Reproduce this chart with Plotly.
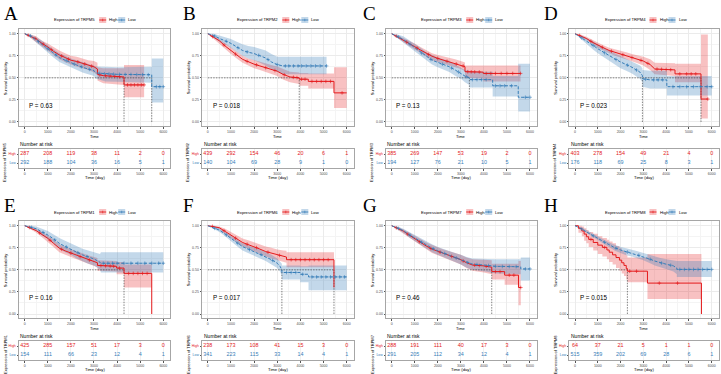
import plotly.graph_objects as go

# ---------------- data ----------------
letters = ["A", "B", "C", "D", "E", "F", "G", "H"]
genes = ["TRPM5", "TRPM2", "TRPM3", "TRPM4", "TRPM1", "TRPM6", "TRPM7", "TRPM8"]
pvals = ["0.63", "0.018", "0.13", "0.023", "0.16", "0.017", "0.46", "0.015"]
risk_times = [0, 1000, 2000, 3000, 4000, 5000, 6000]

A_risk_high = [287, 208, 119, 38, 11, 2, 0]
A_risk_low = [292, 188, 104, 36, 16, 5, 1]
B_risk_high = [439, 292, 154, 46, 20, 6, 1]
B_risk_low = [140, 104, 69, 28, 9, 1, 0]
C_risk_high = [385, 269, 147, 53, 19, 2, 0]
C_risk_low = [194, 127, 76, 21, 10, 5, 1]
D_risk_high = [403, 278, 154, 49, 21, 4, 0]
D_risk_low = [176, 118, 69, 25, 8, 3, 1]
E_risk_high = [425, 285, 157, 51, 17, 3, 0]
E_risk_low = [154, 111, 66, 23, 12, 4, 1]
F_risk_high = [238, 173, 108, 41, 15, 3, 0]
F_risk_low = [341, 223, 115, 33, 14, 4, 1]
G_risk_high = [288, 191, 111, 40, 17, 3, 0]
G_risk_low = [291, 205, 112, 34, 12, 4, 1]
H_risk_high = [64, 37, 21, 5, 1, 1, 0]
H_risk_low = [515, 359, 202, 69, 28, 6, 1]

# survival curves: (time, survival, lower CI, upper CI)
A_high = [(0,1,1,1),(250,0.97,0.95,0.99),(500,0.94,0.91,0.97),(750,0.89,0.86,0.92),(1000,0.85,0.81,0.89),
          (1250,0.80,0.76,0.85),(1500,0.76,0.71,0.81),(1750,0.73,0.68,0.78),(2000,0.70,0.65,0.75),
          (2250,0.685,0.63,0.74),(2500,0.665,0.61,0.72),(2750,0.645,0.59,0.70),(3000,0.625,0.56,0.69),
          (3150,0.60,0.53,0.67),(3150,0.54,0.47,0.62),(3400,0.525,0.44,0.61),(4300,0.51,0.42,0.61),
          (4300,0.42,0.28,0.645),(5170,0.42,0.28,0.645)]
A_low = [(0,1,1,1),(250,0.975,0.96,0.99),(500,0.93,0.90,0.96),(750,0.88,0.84,0.92),(1000,0.83,0.79,0.87),
         (1250,0.78,0.73,0.82),(1500,0.73,0.68,0.78),(1750,0.70,0.65,0.75),(2000,0.67,0.62,0.72),
         (2250,0.645,0.59,0.70),(2500,0.62,0.56,0.68),(2750,0.60,0.54,0.66),(3000,0.58,0.52,0.645),
         (3100,0.555,0.49,0.63),(3500,0.545,0.46,0.625),(4000,0.54,0.455,0.62),(5500,0.535,0.445,0.625),
         (5500,0.40,0.22,0.72),(6000,0.40,0.22,0.72)]
B_high = [(0,1,1,1),(250,0.96,0.94,0.98),(500,0.92,0.89,0.94),(750,0.86,0.83,0.89),(1000,0.805,0.77,0.84),
          (1250,0.76,0.72,0.80),(1500,0.71,0.67,0.75),(1750,0.68,0.64,0.72),(2000,0.655,0.61,0.70),
          (2250,0.635,0.59,0.68),(2500,0.615,0.57,0.66),(2750,0.595,0.545,0.645),(3000,0.575,0.52,0.63),
          (3250,0.54,0.48,0.60),(3550,0.51,0.45,0.57),(3950,0.50,0.43,0.56),(3950,0.485,0.41,0.555),
          (4340,0.485,0.41,0.555),(4340,0.46,0.38,0.55),(5450,0.46,0.38,0.55),(5450,0.33,0.16,0.62),
          (6000,0.33,0.16,0.62)]
B_low = [(0,1,1,1),(250,0.98,0.96,1.0),(500,0.947,0.91,0.98),(750,0.92,0.88,0.96),(1000,0.89,0.84,0.94),
         (1250,0.85,0.79,0.91),(1500,0.81,0.75,0.88),(1750,0.79,0.72,0.86),(2000,0.775,0.70,0.85),
         (2250,0.75,0.67,0.83),(2500,0.725,0.64,0.81),(2750,0.68,0.60,0.77),(3000,0.65,0.57,0.74),
         (3250,0.635,0.54,0.74),(5130,0.635,0.54,0.74)]
C_high = [(0,1,1,1),(250,0.965,0.95,0.98),(500,0.93,0.90,0.95),(750,0.89,0.86,0.92),(1000,0.853,0.82,0.89),
          (1250,0.815,0.78,0.85),(1500,0.777,0.74,0.81),(1750,0.745,0.70,0.78),(2000,0.72,0.68,0.76),
          (2250,0.70,0.66,0.745),(2500,0.68,0.635,0.725),(2750,0.66,0.615,0.71),(3000,0.645,0.60,0.69),
          (3180,0.626,0.575,0.675),(3180,0.57,0.50,0.64),(3970,0.565,0.49,0.64),(3970,0.55,0.46,0.64),
          (5590,0.55,0.46,0.64)]
C_low = [(0,1,1,1),(250,0.97,0.95,0.99),(500,0.935,0.90,0.97),(750,0.89,0.85,0.93),(1000,0.84,0.80,0.88),
         (1250,0.79,0.74,0.84),(1500,0.74,0.69,0.79),(1750,0.70,0.65,0.76),(2000,0.675,0.62,0.73),
         (2250,0.65,0.59,0.71),(2500,0.626,0.565,0.69),(2750,0.59,0.525,0.65),(3000,0.55,0.49,0.61),
         (3180,0.52,0.45,0.59),(3370,0.50,0.42,0.58),(3370,0.48,0.39,0.57),(4380,0.48,0.39,0.57),
         (4380,0.41,0.29,0.52),(5490,0.41,0.29,0.52),(5490,0.28,0.12,0.66),(6000,0.28,0.12,0.66)]
D_high = [(0,1,1,1),(250,0.975,0.96,0.99),(500,0.946,0.93,0.965),(750,0.905,0.88,0.93),(1000,0.87,0.84,0.90),
          (1250,0.84,0.81,0.87),(1500,0.81,0.78,0.84),(1750,0.79,0.75,0.825),(2000,0.77,0.73,0.81),
          (2250,0.75,0.71,0.79),(2500,0.73,0.69,0.77),(2750,0.71,0.665,0.755),(3000,0.69,0.64,0.74),
          (3300,0.65,0.59,0.71),(3500,0.60,0.54,0.67),(4390,0.59,0.52,0.665),(4390,0.545,0.45,0.66),
          (5530,0.545,0.45,0.66),(5530,0.26,0.04,0.99),(5830,0.26,0.04,0.99)]
D_low = [(0,1,1,1),(250,0.96,0.94,0.98),(500,0.92,0.88,0.95),(750,0.875,0.83,0.92),(1000,0.83,0.78,0.88),
         (1250,0.79,0.74,0.84),(1500,0.756,0.70,0.81),(1750,0.715,0.65,0.78),(2000,0.68,0.61,0.75),
         (2250,0.65,0.58,0.72),(2500,0.62,0.55,0.69),(2850,0.565,0.49,0.64),(2960,0.525,0.45,0.61),
         (2960,0.49,0.40,0.59),(3300,0.477,0.38,0.58),(4030,0.477,0.38,0.58),(4030,0.40,0.30,0.52),
         (6000,0.40,0.30,0.52)]
E_high = [(0,1,1,1),(250,0.975,0.96,0.99),(500,0.944,0.92,0.965),(750,0.90,0.87,0.93),(1000,0.857,0.82,0.89),
          (1250,0.80,0.76,0.84),(1500,0.745,0.70,0.79),(1750,0.715,0.67,0.76),(2000,0.69,0.645,0.735),
          (2250,0.665,0.62,0.71),(2500,0.64,0.595,0.685),(2750,0.615,0.57,0.665),(3000,0.594,0.545,0.645),
          (3150,0.58,0.53,0.635),(3150,0.55,0.49,0.61),(3980,0.54,0.48,0.60),(3980,0.52,0.45,0.59),
          (4300,0.52,0.45,0.59),(4300,0.46,0.30,0.56),(5500,0.46,0.30,0.56),(5500,0.0,0.0,0.0)]
E_low = [(0,1,1,1),(250,0.985,0.97,1.0),(500,0.966,0.94,0.99),(750,0.93,0.89,0.965),(1000,0.895,0.85,0.94),
         (1250,0.85,0.80,0.90),(1500,0.80,0.74,0.86),(1750,0.765,0.70,0.83),(2000,0.737,0.67,0.80),
         (2250,0.70,0.63,0.77),(2500,0.67,0.60,0.74),(2750,0.645,0.57,0.72),(3000,0.624,0.55,0.70),
         (3260,0.586,0.50,0.68),(3300,0.575,0.47,0.70),(6000,0.575,0.47,0.70)]
F_high = [(0,1,1,1),(250,0.99,0.98,1.0),(500,0.977,0.96,0.99),(750,0.935,0.905,0.965),(1000,0.895,0.86,0.93),
          (1250,0.85,0.81,0.89),(1500,0.81,0.765,0.855),(1750,0.785,0.74,0.835),(2000,0.763,0.71,0.81),
          (2250,0.735,0.68,0.79),(2500,0.707,0.65,0.765),(2750,0.69,0.63,0.75),(3000,0.67,0.61,0.73),
          (3270,0.654,0.59,0.72),(3400,0.645,0.58,0.715),(3400,0.615,0.53,0.70),(5450,0.615,0.53,0.70),
          (5450,0.30,0.30,0.30)]
F_low = [(0,1,1,1),(250,0.975,0.96,0.99),(500,0.95,0.93,0.97),(750,0.905,0.88,0.93),(1000,0.857,0.82,0.89),
         (1250,0.81,0.77,0.845),(1500,0.763,0.72,0.80),(1750,0.735,0.69,0.78),(2000,0.707,0.66,0.75),
         (2250,0.68,0.63,0.73),(2500,0.65,0.60,0.70),(2750,0.615,0.56,0.67),(3000,0.575,0.52,0.63),
         (3120,0.54,0.48,0.60),(3200,0.50,0.43,0.57),(3200,0.47,0.39,0.55),(3990,0.47,0.39,0.55),
         (3990,0.45,0.36,0.54),(4350,0.45,0.36,0.54),(4350,0.42,0.27,0.55),(6000,0.42,0.27,0.55)]
G_high = [(0,1,1,1),(250,0.97,0.955,0.985),(500,0.94,0.915,0.96),(750,0.895,0.865,0.925),(1000,0.85,0.815,0.885),
          (1250,0.81,0.77,0.85),(1500,0.77,0.73,0.81),(1750,0.735,0.69,0.78),(2000,0.71,0.665,0.755),
          (2250,0.685,0.64,0.73),(2500,0.66,0.61,0.71),(2750,0.64,0.59,0.69),(3000,0.615,0.56,0.67),
          (3250,0.58,0.52,0.64),(3500,0.555,0.49,0.62),(4000,0.545,0.47,0.615),(4340,0.53,0.45,0.61),
          (4340,0.48,0.39,0.57),(4900,0.48,0.39,0.57),(4900,0.44,0.33,0.57),(5500,0.44,0.33,0.57),
          (5500,0.30,0.10,0.60),(5600,0.30,0.10,0.60)]
G_low = [(0,1,1,1),(250,0.975,0.96,0.99),(500,0.945,0.92,0.965),(750,0.90,0.87,0.93),(1000,0.86,0.825,0.895),
         (1250,0.82,0.78,0.86),(1500,0.78,0.74,0.82),(1750,0.745,0.70,0.79),(2000,0.715,0.67,0.76),
         (2250,0.69,0.645,0.735),(2500,0.665,0.615,0.715),(2750,0.64,0.59,0.69),(3000,0.615,0.56,0.67),
         (3250,0.585,0.525,0.645),(3500,0.565,0.50,0.63),(4000,0.555,0.485,0.625),(4500,0.54,0.46,0.62),
         (5600,0.535,0.45,0.62),(5600,0.51,0.38,0.64),(6000,0.51,0.38,0.64)]
H_high = [(0,1,1,1),(150,0.97,0.92,1.0),(300,0.94,0.88,0.99),(400,0.905,0.83,0.97),(500,0.875,0.80,0.95),
          (600,0.845,0.76,0.93),(800,0.81,0.72,0.91),(1000,0.78,0.68,0.88),(1200,0.755,0.65,0.86),
          (1400,0.725,0.62,0.84),(1500,0.70,0.59,0.82),(1650,0.67,0.56,0.80),(1800,0.64,0.52,0.77),
          (1950,0.61,0.49,0.745),(2050,0.58,0.46,0.72),(2150,0.55,0.43,0.70),(2250,0.515,0.39,0.665),
          (2300,0.485,0.36,0.64),(3180,0.35,0.17,0.68),(5550,0.0,0.0,0.0)]
H_low = [(0,1,1,1),(250,0.97,0.96,0.98),(500,0.93,0.91,0.95),(750,0.89,0.87,0.915),(1000,0.857,0.83,0.885),
         (1250,0.82,0.79,0.85),(1500,0.78,0.75,0.81),(1750,0.75,0.715,0.785),(2000,0.725,0.69,0.76),
         (2250,0.705,0.665,0.745),(2500,0.69,0.65,0.73),(2750,0.67,0.63,0.71),(3000,0.65,0.61,0.69),
         (3250,0.625,0.58,0.67),(3500,0.60,0.55,0.65),(3750,0.58,0.53,0.635),(4000,0.564,0.51,0.62),
         (4320,0.545,0.48,0.61),(4470,0.52,0.45,0.60),(4470,0.505,0.42,0.60),(6000,0.505,0.42,0.60)]

# censoring times
A_high_cens = [150, 450, 800, 1150, 1600, 1900, 2300, 2600, 2900, 3250, 3500, 3700, 3900, 4100, 4450, 4600, 4750, 4900, 5050, 5170]
A_low_cens = [250, 600, 1000, 1350, 1800, 2150, 2450, 2800, 3250, 3450, 3650, 3850, 4100, 4350, 4600, 4850, 5100, 5350, 5700, 5850, 6000]
B_high_cens = [200, 700, 1200, 1700, 2100, 2500, 2900, 3300, 3700, 3850, 4050, 4200, 4500, 4700, 4900, 5100, 5300, 5800]
B_low_cens = [300, 800, 1300, 1700, 2200, 2600, 3000, 3350, 3500, 3700, 3900, 4050, 4250, 4450, 4650, 4850, 5130]
C_high_cens = [200, 650, 1100, 1600, 2000, 2400, 2800, 3100, 3300, 3450, 3600, 3800, 4100, 4300, 4500, 4750, 5000, 5250, 5590]
C_low_cens = [300, 800, 1300, 1700, 2200, 2600, 2900, 3250, 3500, 3700, 3900, 4100, 4500, 4700, 4900, 5200, 5800, 6000]
D_high_cens = [200, 700, 1200, 1600, 2100, 2500, 2900, 3200, 3600, 3800, 4000, 4200, 4600, 4900, 5100, 5300, 5830]
D_low_cens = [300, 800, 1300, 1800, 2300, 2700, 3100, 3450, 3650, 3850, 4300, 4600, 4900, 5200, 5500, 5800, 6000]
E_high_cens = [200, 650, 1100, 1600, 2000, 2400, 2800, 3300, 3500, 3700, 3850, 4100, 4500, 4700, 4900, 5100, 5300]
E_low_cens = [300, 800, 1300, 1800, 2300, 2700, 3400, 3600, 3800, 4000, 4300, 4600, 4900, 5200, 5500, 5800, 6000]
F_high_cens = [200, 700, 1200, 1700, 2100, 2600, 3100, 3600, 3800, 4000, 4200, 4400, 4600, 4800, 5000, 5200]
F_low_cens = [300, 800, 1300, 1800, 2300, 2800, 3400, 3600, 3800, 4100, 4500, 4700, 4900, 5100, 5300, 5500, 5700, 5900]
G_high_cens = [200, 700, 1200, 1700, 2100, 2600, 3100, 3600, 3800, 4100, 4500, 4700, 5100, 5300, 5600]
G_low_cens = [300, 800, 1300, 1800, 2300, 2800, 3300, 3700, 4200, 4500, 4800, 5100, 5400, 5800, 6000]
H_high_cens = [700, 1300, 2400, 2700, 3700, 4500]
H_low_cens = [300, 800, 1300, 1800, 2300, 2800, 3300, 3800, 4200, 4600, 4800, 5000, 5200, 5400, 5600, 5800, 6000]

curves_high = [A_high, B_high, C_high, D_high, E_high, F_high, G_high, H_high]
curves_low = [A_low, B_low, C_low, D_low, E_low, F_low, G_low, H_low]
cens_high = [A_high_cens, B_high_cens, C_high_cens, D_high_cens, E_high_cens, F_high_cens, G_high_cens, H_high_cens]
cens_low = [A_low_cens, B_low_cens, C_low_cens, D_low_cens, E_low_cens, F_low_cens, G_low_cens, H_low_cens]
risk_high = [A_risk_high, B_risk_high, C_risk_high, D_risk_high, E_risk_high, F_risk_high, G_risk_high, H_risk_high]
risk_low = [A_risk_low, B_risk_low, C_risk_low, D_risk_low, E_risk_low, F_risk_low, G_risk_low, H_risk_low]
step_shape_high = ["linear"] * 7 + ["hv"]

# ---------------- style / layout ----------------
W, H = 721, 374
RED, BLUE = "#E41A1C", "#377EB8"
RED_F, BLUE_F = "rgba(228,26,28,0.27)", "rgba(55,126,184,0.30)"
FONT = "Liberation Sans, Arial, sans-serif"
TXT = "#4D4D4D"
COL_X0 = [24.7, 207.8, 391.7, 575.0]
COL_W6 = [138.6, 138.9, 138.3, 136.7]
ROW_OFF = [0, 192]
XR = [-250, 6300]
KM_Y1, KM_Y0 = 33.7, 122.0
TAB_HIGH, TAB_LOW = 154.0, 163.0
LETTER_X = [2, 181, 361, 542]


def fx(p):
    return p / W


def fy(p):
    return 1 - p / H


def value_at(curve, t, shape):
    ts = [c[0] for c in curve]
    ss = [c[1] for c in curve]
    if shape == "hv":
        v = ss[0]
        for a, b in zip(ts, ss):
            if a <= t:
                v = b
        return v
    for k in range(len(ts) - 1):
        if ts[k] <= t <= ts[k + 1]:
            if ts[k + 1] == ts[k]:
                return ss[k + 1]
            return ss[k] + (ss[k + 1] - ss[k]) * (t - ts[k]) / (ts[k + 1] - ts[k])
    return ss[-1]


def median_of(curve):
    for c in curve:
        if c[1] <= 0.5:
            return c[0]
    return None


def note(text, px, py, size, xanchor="center", yanchor="middle", angle=0, color="black", family=None):
    f = dict(size=size, color=color)
    if family:
        f["family"] = family
    return dict(text=text, x=fx(px), y=fy(py), xref="paper", yref="paper", xanchor=xanchor,
                yanchor=yanchor, textangle=angle, showarrow=False, font=f)


fig = go.Figure()
layout = dict(width=W, height=H, margin=dict(l=0, r=0, t=0, b=0), paper_bgcolor="white",
              plot_bgcolor="white", showlegend=False, font=dict(family=FONT, color="black"))
ann = []
shapes = []

for i in range(8):
    r, c = divmod(i, 4)
    off = ROW_OFF[r]
    x0 = COL_X0[c]
    sc = COL_W6[c] / 6000
    left, right = x0 + XR[0] * sc, x0 + XR[1] * sc
    kn, tn = 2 * i + 1, 2 * i + 2
    kx, ky = ("x", "y") if kn == 1 else (f"x{kn}", f"y{kn}")
    tx, ty = f"x{tn}", f"y{tn}"
    kxa = "xaxis" if kn == 1 else f"xaxis{kn}"
    kya = "yaxis" if kn == 1 else f"yaxis{kn}"

    km_top = KM_Y1 + off - 0.05 * (KM_Y0 - KM_Y1)
    km_bot = KM_Y0 + off + 0.05 * (KM_Y0 - KM_Y1)
    tb_top = TAB_HIGH + off - 0.6 * (TAB_LOW - TAB_HIGH)
    tb_bot = TAB_LOW + off + 0.6 * (TAB_LOW - TAB_HIGH)

    common_x = dict(range=XR, tickvals=risk_times, ticktext=[str(t) for t in risk_times],
                    tickfont=dict(size=3.5, color=TXT), ticks="outside", ticklen=1.5, tickwidth=0.5,
                    tickcolor="#555", showline=True, mirror=True, linecolor="#A6A6A6", linewidth=0.8,
                    zeroline=False, fixedrange=True)
    layout[kxa] = dict(domain=[fx(left), fx(right)], anchor=ky, showgrid=True, gridcolor="#EBEBEB",
                       gridwidth=0.5, minor=dict(dtick=500, tick0=0, showgrid=True, gridcolor="#F4F4F4",
                                                 gridwidth=0.4), **common_x)
    layout[kya] = dict(domain=[fy(km_bot), fy(km_top)], anchor=kx, range=[-0.05, 1.05],
                       tickvals=[0, 0.25, 0.5, 0.75, 1.0], ticktext=["0.00", "0.25", "0.50", "0.75", "1.00"],
                       tickfont=dict(size=3.5, color=TXT), ticks="outside", ticklen=1.5, tickwidth=0.5,
                       tickcolor="#555", showline=True, mirror=True, linecolor="#A6A6A6", linewidth=0.8,
                       showgrid=True, gridcolor="#EBEBEB", gridwidth=0.5,
                       minor=dict(dtick=0.125, tick0=0, showgrid=True, gridcolor="#F4F4F4", gridwidth=0.4),
                       zeroline=False, fixedrange=True)
    layout[f"xaxis{tn}"] = dict(domain=[fx(left), fx(right)], anchor=ty, showgrid=True, gridcolor="#F0F0F0",
                               gridwidth=0.5, **common_x)
    layout[f"yaxis{tn}"] = dict(domain=[fy(tb_bot), fy(tb_top)], anchor=tx, range=[0.4, 2.6],
                               tickvals=[1, 2],
                               ticktext=[f"<span style='color:{BLUE}'>Low</span>",
                                         f"<span style='color:{RED}'>High</span>"],
                               tickfont=dict(size=3.5), ticks="outside", ticklen=1.5, tickwidth=0.5,
                               tickcolor="#555", showline=True, mirror=True, linecolor="#A6A6A6",
                               linewidth=0.8, showgrid=False, zeroline=False, fixedrange=True)

    groups = [(curves_high[i], RED, RED_F, step_shape_high[i], "solid", cens_high[i]),
              (curves_low[i], BLUE, BLUE_F, "linear", "3px,1.6px", cens_low[i])]
    # ribbons
    for cv, col, fcol, shp, dash, cens in groups:
        t = [p[0] for p in cv]
        fig.add_trace(go.Scatter(x=t, y=[p[2] for p in cv], mode="lines", line=dict(width=0, shape=shp),
                                 xaxis=kx, yaxis=ky, hoverinfo="skip"))
        fig.add_trace(go.Scatter(x=t, y=[p[3] for p in cv], mode="lines", line=dict(width=0, shape=shp),
                                 fill="tonexty", fillcolor=fcol, xaxis=kx, yaxis=ky, hoverinfo="skip"))
    # median lines
    meds = [m for m in (median_of(curves_high[i]), median_of(curves_low[i])) if m is not None]
    if meds:
        fig.add_trace(go.Scatter(x=[0, max(meds)], y=[0.5, 0.5], mode="lines",
                                 line=dict(color="#333", width=0.6, dash="1.5px,1.2px"),
                                 xaxis=kx, yaxis=ky, hoverinfo="skip"))
        for m in meds:
            fig.add_trace(go.Scatter(x=[m, m], y=[0, 0.5], mode="lines",
                                     line=dict(color="#333", width=0.6, dash="1.5px,1.2px"),
                                     xaxis=kx, yaxis=ky, hoverinfo="skip"))
    # curves and censor marks
    for cv, col, fcol, shp, dash, cens in groups:
        fig.add_trace(go.Scatter(x=[p[0] for p in cv], y=[p[1] for p in cv], mode="lines",
                                 line=dict(color=col, width=1.0, shape=shp, dash=dash),
                                 xaxis=kx, yaxis=ky, hoverinfo="skip"))
        fig.add_trace(go.Scatter(x=cens, y=[value_at(cv, t, shp) for t in cens], mode="markers",
                                 marker=dict(symbol="line-ns", size=2.6, line=dict(color=col, width=0.6)),
                                 xaxis=kx, yaxis=ky, hoverinfo="skip"))
        fig.add_trace(go.Scatter(x=cens, y=[value_at(cv, t, shp) for t in cens], mode="markers",
                                 marker=dict(symbol="line-ew", size=2.6, line=dict(color=col, width=0.6)),
                                 xaxis=kx, yaxis=ky, hoverinfo="skip"))
    # risk table
    fig.add_trace(go.Scatter(x=risk_times, y=[2] * 7, mode="text", text=[str(v) for v in risk_high[i]],
                             textfont=dict(size=5.4, color=RED, family=FONT), xaxis=tx, yaxis=ty,
                             hoverinfo="skip"))
    fig.add_trace(go.Scatter(x=risk_times, y=[1] * 7, mode="text", text=[str(v) for v in risk_low[i]],
                             textfont=dict(size=5.4, color=BLUE, family=FONT), xaxis=tx, yaxis=ty,
                             hoverinfo="skip"))

    # annotations
    ann.append(note(letters[i], LETTER_X[c], 1 + off, 19, xanchor="left", yanchor="top",
                    family="Liberation Serif, Times New Roman, serif"))
    ann.append(dict(text=f"P = {pvals[i]}", x=120, y=0.19, xref=kx, yref=ky, xanchor="left",
                    yanchor="middle", showarrow=False, font=dict(size=6.3, color="black")))
    ann.append(note("Survival probability", left - 13.5, (km_top + km_bot) / 2, 4.0, angle=-90))
    ann.append(note("Time", (left + right) / 2, 136.6 + off, 4.0))
    ann.append(note("Number at risk", left - 0.5, 144 + off, 5.0, xanchor="left"))
    ann.append(note(f"Expression of {genes[i]}", left - 14, 162 + off, 4.0, angle=-90))
    ann.append(note("Time (day)", (left + right) / 2, 177.6 + off, 4.2))
    # legend
    ly = 20 + off
    ann.append(note(f"Expression of {genes[i]}", x0 + 72.5, ly, 4.2, xanchor="right"))
    for (kx0, col, fcol, lab, dash) in [(74.5, RED, RED_F, "High", "solid"),
                                       (93.5, BLUE, BLUE_F, "Low", "dash")]:
        shapes.append(dict(type="rect", xref="paper", yref="paper", x0=fx(x0 + kx0), x1=fx(x0 + kx0 + 7),
                           y0=fy(ly + 3), y1=fy(ly - 3), fillcolor=fcol, line=dict(width=0)))
        shapes.append(dict(type="line", xref="paper", yref="paper", x0=fx(x0 + kx0), x1=fx(x0 + kx0 + 7),
                           y0=fy(ly), y1=fy(ly), line=dict(color=col, width=0.9, dash=dash)))
        shapes.append(dict(type="line", xref="paper", yref="paper", x0=fx(x0 + kx0 + 3.5),
                           x1=fx(x0 + kx0 + 3.5), y0=fy(ly - 1.3), y1=fy(ly + 1.3),
                           line=dict(color=col, width=0.6)))
        ann.append(note(lab, x0 + kx0 + 8, ly, 4.2, xanchor="left"))

layout["annotations"] = ann
layout["shapes"] = shapes
fig.update_layout(**layout)
fig.write_html("out.html")
